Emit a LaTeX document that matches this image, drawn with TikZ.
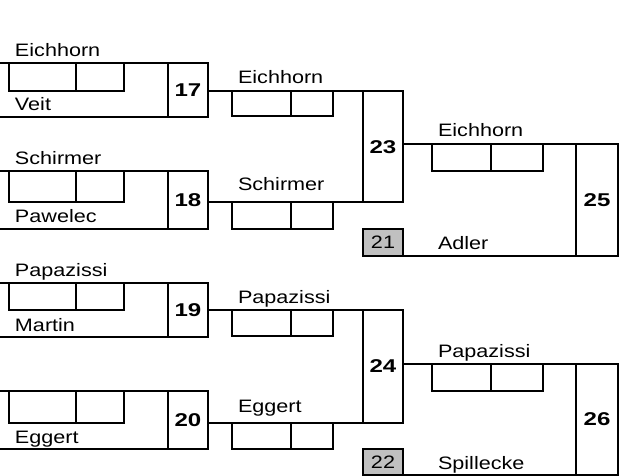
\documentclass[tikz,border=0pt]{standalone}
\usepackage{fontspec}
\setmainfont{Liberation Sans}[FakeStretch=1.2]
\newfontfamily\numfont{Liberation Sans}[FakeStretch=1.3]
\definecolor{seedgray}{HTML}{C0C0C0}
\newcommand\myscores[5]{%
  \draw (#1,#4) |- (#3,#5) -- (#3,#4);
  \draw (#2,#4) -- (#2,#5);}
\begin{document}
\begin{tikzpicture}[x=1pt,y=-1pt,line width=2pt,
  numbox/.style={draw,rectangle,minimum width=40pt,inner sep=0pt,outer sep=0pt,
    font=\numfont\fontsize{18.5}{20}\selectfont\bfseries},
  finalbox/.style={numbox,minimum width=42pt},
  seedbox/.style={draw,fill=seedgray,rectangle,minimum width=40pt,inner sep=0pt,outer sep=0pt,
    font=\fontsize{18}{20}\selectfont},
  plname/.style={anchor=base west,inner sep=0pt,font=\fontsize{18}{20}\selectfont}]
\useasboundingbox (0,0) rectangle (619,476);

% round 1
\node[numbox,minimum height=54pt] (m17) at (188,90.5) {17};
\node[numbox,minimum height=58pt] (m18) at (188,200) {18};
\node[numbox,minimum height=54pt] (m19) at (188,310) {19};
\node[numbox,minimum height=58pt] (m20) at (188,420) {20};
\coordinate (a17) at (0,63.5);  \coordinate (b17) at (0,117.5);
\coordinate (a18) at (0,171);   \coordinate (b18) at (0,229);
\coordinate (a19) at (0,283);   \coordinate (b19) at (0,337);
\coordinate (a20) at (0,391);   \coordinate (b20) at (0,449);
\foreach \m in {17,18,19,20}{
  \draw (a\m) -- (m\m.north west);
  \draw (b\m) -- (m\m.south west);}
\myscores{9.3}{76}{124.3}{63.5}{91}
\myscores{9.3}{76}{124.3}{171}{202.5}
\myscores{9.3}{76}{124.3}{283}{310}
\myscores{9.3}{76}{124.3}{391}{422.5}
\node[plname] (t1) at (14,57) {Eichhorn};
\node[plname] (t2) at (14,111) {Veit};
\node[plname] (t3) at (14,164.5) {Schirmer};
\node[plname] (t4) at (14,222.5) {Pawelec};
\node[plname] (t5) at (14,276.5) {Papazissi};
\node[plname] (t6) at (14,331) {Martin};
\node[plname] (t8) at (14,443) {Eggert};

% round 2
\node[numbox,minimum height=111.5pt] (m23) at (383,146.75) {23};
\node[numbox,minimum height=112.5pt] (m24) at (383,366.25) {24};
\draw (m17.east |- 0,91) -- (m23.north west);
\draw (m18.east |- 0,202.5) -- (m23.south west);
\draw (m19.east |- 0,310) -- (m24.north west);
\draw (m20.east |- 0,422.5) -- (m24.south west);
\myscores{231.7}{290.7}{333.3}{91}{116}
\myscores{231.7}{290.7}{333.3}{202.5}{229}
\myscores{231.7}{290.7}{333.3}{310}{336}
\myscores{231.7}{290.7}{333.3}{422.5}{448.5}
\node[plname] (u1) at (237,84) {Eichhorn};
\node[plname] (u2) at (237,191) {Schirmer};
\node[plname] (u3) at (237,303) {Papazissi};
\node[plname] (u4) at (237,412.5) {Eggert};

% seeds
\node[seedbox,minimum height=26.5pt] (s21) at (383,242.25) {21};
\node[seedbox,minimum height=26pt] (s22) at (383,462) {22};

% round 3
\node[finalbox,minimum height=111.5pt] (m25) at (597,199.75) {25};
\node[finalbox,minimum height=111pt] (m26) at (597,419.5) {26};
\draw (m23.east |- 0,144) -- (m25.north west);
\draw (s21.south east) -- (m25.south west);
\draw (m24.east |- 0,364) -- (m26.north west);
\draw (s22.south east) -- (m26.south west);
\myscores{431.7}{490.7}{543.3}{144}{170.7}
\myscores{431.7}{490.7}{543.3}{364}{390.7}
\node[plname] (v1) at (437,137) {Eichhorn};
\node[plname] (v2) at (437,249) {Adler};
\node[plname] (v3) at (437,357) {Papazissi};
\node[plname] (v4) at (437,469) {Spillecke};
\end{tikzpicture}
\end{document}
